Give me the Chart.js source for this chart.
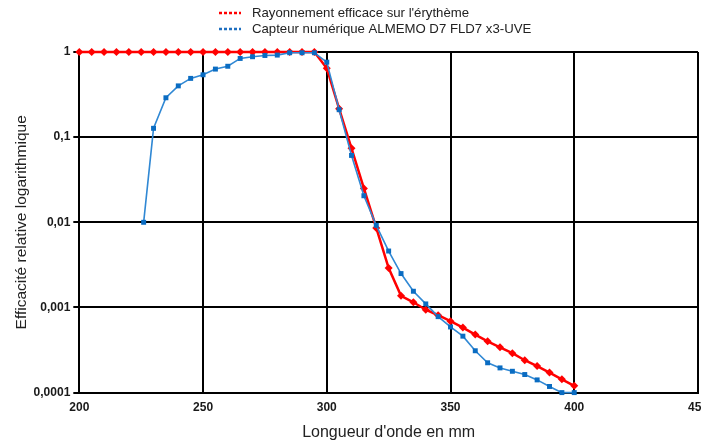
<!DOCTYPE html>
<html>
<head>
<meta charset="utf-8">
<script src="https://cdn.jsdelivr.net/npm/chart.js@4.4.0/dist/chart.umd.min.js"></script>
<style>
  html, body { margin: 0; padding: 0; background: #fff; }
  #clip { width: 701px; height: 441px; overflow: hidden; }
  #wrap { width: 716px; height: 441px; position: relative; }
</style>
</head>
<body>
<div id="clip"><div id="wrap"><canvas id="chart"></canvas></div></div>
<script>
// Wavelengths (nm) and relative efficiency
const redWavelengths = [200, 205, 210, 215, 220, 225, 230, 235, 240, 245, 250, 255, 260, 265, 270, 275, 280, 285, 290, 295,
  300, 305, 310, 315, 320, 325, 330, 335, 340, 345, 350, 355, 360, 365, 370, 375, 380, 385, 390, 395, 400];
const redValues = [1, 1, 1, 1, 1, 1, 1, 1, 1, 1, 1, 1, 1, 1, 1, 1, 1, 1, 1, 1,
  0.645, 0.215, 0.074, 0.025, 0.0086, 0.0029, 0.00137, 0.00115, 0.00094, 0.00081, 0.00069, 0.00058, 0.00048, 0.0004,
  0.00034, 0.00029, 0.00024, 0.000205, 0.000172, 0.000143, 0.00012];

const blueWavelengths = [226, 230, 235, 240, 245, 250, 255, 260, 265, 270, 275, 280, 285, 290, 295,
  300, 305, 310, 315, 320, 325, 330, 335, 340, 345, 350, 355, 360, 365, 370, 375, 380, 385, 390, 395, 400];
const blueValues = [0.01, 0.127, 0.29, 0.4, 0.49, 0.54, 0.63, 0.68, 0.84, 0.88, 0.91, 0.92, 0.98, 0.98, 0.98,
  0.76, 0.21, 0.061, 0.0205, 0.0092, 0.0046, 0.0025, 0.00155, 0.0011, 0.00078, 0.00059, 0.00046, 0.00031,
  0.000224, 0.000195, 0.000178, 0.000163, 0.000141, 0.000118, 0.0001, 0.0001];

const seriesLabels = ["Rayonnement efficace sur l'érythème", "Capteur numérique ALMEMO D7 FLD7 x3-UVE"];
const yTickValues = [0.0001, 0.001, 0.01, 0.1, 1];
const yTickLabels = ["0,0001", "0,001", "0,01", "0,1", "1"];

const toPoints = (xs, ys) => xs.map((x, i) => ({ x: x, y: ys[i] }));

// Legend drawn as two stacked rows above the plot
const stackedLegend = {
  id: "stackedLegend",
  afterDraw(chart) {
    const ctx = chart.ctx;
    const rows = [
      { label: chart.data.datasets[1].label, color: "#ff0000", y: 13 },
      { label: chart.data.datasets[0].label, color: "#1f6fc0", y: 29 },
    ];
    ctx.save();
    rows.forEach((row) => {
      ctx.strokeStyle = row.color;
      ctx.lineWidth = 2.5;
      ctx.setLineDash([3, 2]);
      ctx.beginPath();
      ctx.moveTo(219, row.y);
      ctx.lineTo(241, row.y);
      ctx.stroke();
      ctx.setLineDash([]);
      ctx.fillStyle = "#222";
      ctx.font = "13.2px 'Liberation Sans', Arial, sans-serif";
      ctx.textBaseline = "middle";
      ctx.fillText(row.label, 252, row.y);
    });
    ctx.restore();
  },
};

new Chart(document.getElementById("chart"), {
  type: "line",
  data: {
    datasets: [
      {
        label: seriesLabels[1],
        data: toPoints(blueWavelengths, blueValues),
        borderColor: "#3088d4",
        backgroundColor: "#0a6cc2",
        borderWidth: 1.6,
        pointStyle: "rect",
        pointRadius: 3.5,
        pointBorderWidth: 0,
        order: 0,
        clip: false,
      },
      {
        label: seriesLabels[0],
        data: toPoints(redWavelengths, redValues),
        borderColor: "#ff0000",
        backgroundColor: "#ff0000",
        borderWidth: 2.5,
        pointStyle: "rectRot",
        pointRadius: 4,
        pointBorderWidth: 0,
        order: 1,
        clip: false,
      },
    ],
  },
  options: {
    responsive: true,
    maintainAspectRatio: false,
    animation: false,
    layout: { padding: { top: 52, left: 12, right: 1, bottom: 0 } },
    plugins: {
      legend: { display: false },
      tooltip: { enabled: false },
    },
    scales: {
      x: {
        type: "linear",
        min: 200,
        max: 450,
        ticks: {
          stepSize: 50,
          padding: 8,
          color: "#1a1a1a",
          font: { family: "'Liberation Sans', Arial, sans-serif", size: 12, weight: "bold" },
        },
        grid: { color: "#000", lineWidth: 2, drawTicks: false },
        border: { color: "#000", width: 2 },
        title: {
          display: true,
          text: "Longueur d'onde en mm",
          color: "#222",
          padding: { top: 2, bottom: 0 },
          font: { family: "'Liberation Sans', Arial, sans-serif", size: 16, lineHeight: 1 },
        },
      },
      y: {
        type: "logarithmic",
        min: 0.0001,
        max: 1,
        afterBuildTicks: (scale) => {
          scale.ticks = yTickValues.map((v) => ({ value: v, major: true }));
        },
        ticks: {
          padding: 3,
          color: "#1a1a1a",
          font: { family: "'Liberation Sans', Arial, sans-serif", size: 12, weight: "bold" },
          callback: (value) => yTickLabels[yTickValues.indexOf(value)],
        },
        grid: { color: "#000", lineWidth: 2, tickLength: 6 },
        border: { color: "#000", width: 2 },
        title: {
          display: true,
          text: "Efficacité relative logarithmique",
          color: "#222",
          padding: { top: 0, bottom: 0 },
          font: { family: "'Liberation Sans', Arial, sans-serif", size: 15.5 },
        },
      },
    },
  },
  plugins: [stackedLegend],
});
</script>
</body>
</html>
